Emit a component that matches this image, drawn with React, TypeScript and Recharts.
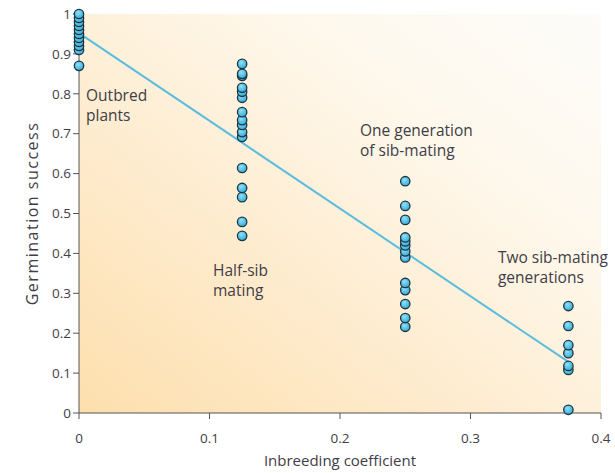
import React from 'react';
import { ScatterChart, Scatter, XAxis, YAxis, ReferenceArea, ReferenceLine, ReferenceDot, Label } from 'recharts';

// germination success per inbreeding level
const inbreedingLevels = [0, 0.125, 0.25, 0.375];
const outbredPlants = [1.0, 0.99, 0.98, 0.97, 0.96, 0.95, 0.94, 0.93, 0.92, 0.91, 0.87];
const halfSibMating = [0.875, 0.85, 0.845, 0.815, 0.805, 0.79, 0.754, 0.734, 0.722, 0.704, 0.692, 0.614, 0.564, 0.541, 0.479, 0.444];
const oneGeneration = [0.581, 0.519, 0.484, 0.44, 0.43, 0.42, 0.405, 0.39, 0.326, 0.308, 0.273, 0.238, 0.216];
const twoGenerations = [0.268, 0.218, 0.17, 0.15, 0.118, 0.108, 0.008];

const xTicks = [0, 0.1, 0.2, 0.3, 0.4];
const yTicks = [0, 0.1, 0.2, 0.3, 0.4, 0.5, 0.6, 0.7, 0.8, 0.9, 1];

const fitStart = { x: 0, y: 0.952 };
const fitEnd = { x: 0.375, y: 0.128 };

const annotations = [
  { x: 0.0054, y: 0.782, lines: ['Outbred', 'plants'] },
  { x: 0.1027, y: 0.343, lines: ['Half-sib', 'mating'] },
  { x: 0.2153, y: 0.694, lines: ['One generation', 'of sib-mating'] },
  { x: 0.321, y: 0.376, lines: ['Two sib-mating', 'generations'] },
];

const points = [outbredPlants, halfSibMating, oneGeneration, twoGenerations].flatMap((vals, i) =>
  [...vals].sort((a, b) => a - b).map((v) => ({ x: inbreedingLevels[i], y: v }))
);

const FONT = "'Open Sans', sans-serif";
const TEXT = '#3f3d47';
const AXIS = '#555';

const fmt = (v: number) => (v === 0 ? '0' : v === 1 ? '1' : v.toFixed(1));

const Dot = (props: any) => {
  const { cx, cy } = props;
  if (cx == null || cy == null) return null;
  return <circle cx={cx} cy={cy} r={4.7} fill="url(#dotGrad)" stroke="#1f3642" strokeWidth={1.3} />;
};

const Annotation = (lines: string[]) => (props: any) => {
  const { cx, cy } = props;
  return (
    <text x={cx} y={cy} fill={TEXT} fontFamily={FONT} fontSize={15.5}>
      {lines.map((l, i) => (
        <tspan key={i} x={cx} dy={i === 0 ? 0 : 20}>{l}</tspan>
      ))}
    </text>
  );
};

export default function App() {
  return (
    <div style={{ position: 'absolute', left: 0, top: 0, width: 615, height: 473, background: '#fff' }}>
      <ScatterChart width={615} height={473} margin={{ top: 14, right: 14, bottom: 0, left: 0 }}>
        <defs>
          <linearGradient id="bgGrad" x1="0" y1="1" x2="1" y2="0">
            <stop offset="0%" stopColor="#fddfad" />
            <stop offset="35%" stopColor="#feebcd" />
            <stop offset="70%" stopColor="#fef8ec" />
            <stop offset="100%" stopColor="#fdfcfa" />
          </linearGradient>
          <radialGradient id="dotGrad" cx="0.4" cy="0.35" r="0.7">
            <stop offset="0%" stopColor="#8fe0f7" />
            <stop offset="100%" stopColor="#2fa8d6" />
          </radialGradient>
        </defs>
        <XAxis
          type="number"
          dataKey="x"
          domain={[0, 0.4]}
          ticks={xTicks}
          tickFormatter={fmt}
          height={60}
          stroke={AXIS}
          tickMargin={14}
          tick={{ fill: TEXT, fontSize: 13.5, fontFamily: FONT }}
        >
          <Label
            content={(p: any) => {
              const vb = p.viewBox;
              return (
                <text x={vb.x + vb.width / 2} y={vb.y + 53} textAnchor="middle" fill={TEXT} fontFamily={FONT} fontSize={15}>
                  Inbreeding coefficient
                </text>
              );
            }}
          />
        </XAxis>
        <YAxis
          type="number"
          dataKey="y"
          domain={[0, 1]}
          ticks={yTicks}
          tickFormatter={fmt}
          width={79}
          stroke={AXIS}
          tick={{ fill: TEXT, fontSize: 13.5, fontFamily: FONT }}
        >
          <Label
            content={(p: any) => {
              const vb = p.viewBox;
              const cy = vb.y + vb.height / 2;
              return (
                <text x={38} y={cy} transform={`rotate(-90, 38, ${cy})`} textAnchor="middle" fill={TEXT} fontFamily={FONT} fontSize={16} letterSpacing={1.5}>
                  Germination success
                </text>
              );
            }}
          />
        </YAxis>
        <ReferenceArea x1={0} x2={0.4} y1={0} y2={1} fill="url(#bgGrad)" fillOpacity={1} stroke="none" />
        <ReferenceLine segment={[fitStart, fitEnd]} stroke="#5bbcde" strokeWidth={2} ifOverflow="visible" />
        {annotations.map((a, i) => (
          <ReferenceDot key={i} x={a.x} y={a.y} r={0} ifOverflow="visible" shape={Annotation(a.lines)} />
        ))}
        <Scatter data={points} shape={Dot} isAnimationActive={false} />
      </ScatterChart>
    </div>
  );
}
